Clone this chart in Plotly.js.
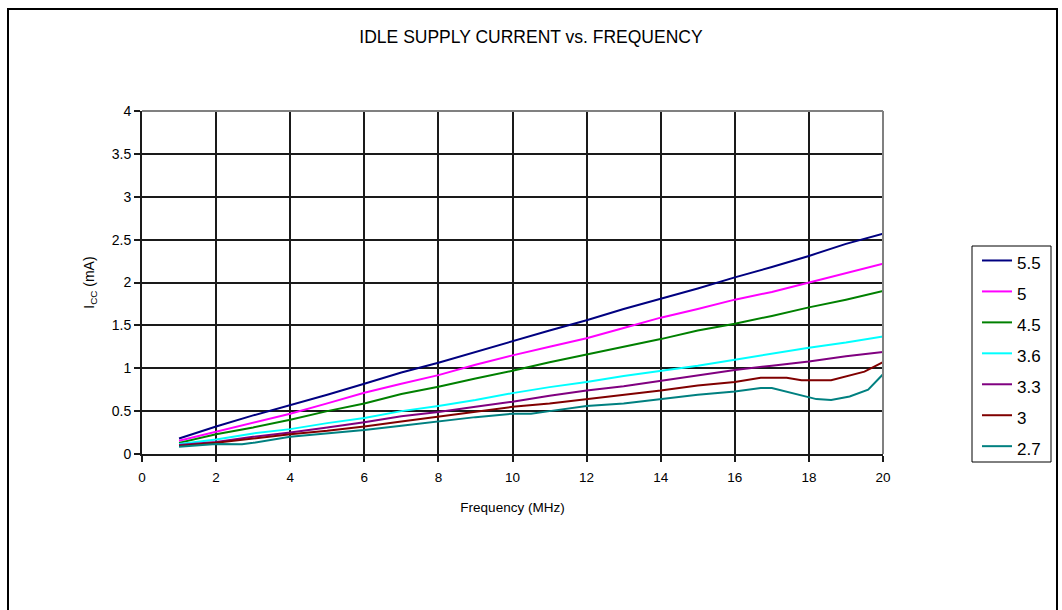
<!DOCTYPE html>
<html>
<head>
<meta charset="utf-8">
<script src="https://cdn.plot.ly/plotly-3.0.1.min.js"></script>
<style>
html,body{margin:0;padding:0;background:#fff;}
#wrap{position:relative;width:1062px;height:610px;overflow:hidden;}
#chart{width:1062px;height:610px;}
#frame{position:absolute;left:7px;top:8px;width:1047px;height:620px;border:2px solid #000;pointer-events:none;}
</style>
</head>
<body>
<div id="wrap"><div id="chart"></div><div id="frame"></div></div>
<script>
// Frequency (MHz)
const freq = [1,2,3,4,5,6,7,8,9,10,11,12,13,14,15,16,17,18,19,20];
const freqLow3 = [1,2,3,4,5,6,7,8,9,10,11,12,13,14,15,16,16.7,17.4,17.8,18.6,19.5,20];
const freqLow27 = [1,2,2.7,3,4,5,6,7,8,9,10,10.5,11,12,13,14,15,16,16.7,17,17.9,18.2,18.6,19.1,19.6,20];

// Icc (mA) per supply voltage
const v55 = [0.18,0.32,0.45,0.57,0.69,0.82,0.95,1.065,1.19,1.32,1.44,1.56,1.69,1.81,1.93,2.06,2.18,2.31,2.45,2.57];
const v50 = [0.155,0.26,0.37,0.47,0.59,0.715,0.82,0.92,1.04,1.15,1.25,1.35,1.47,1.59,1.69,1.80,1.89,2.0,2.11,2.22];
const v45 = [0.13,0.23,0.31,0.40,0.50,0.59,0.70,0.785,0.88,0.97,1.07,1.16,1.25,1.34,1.44,1.52,1.61,1.71,1.80,1.90];
const v36 = [0.117,0.17,0.24,0.29,0.36,0.42,0.50,0.56,0.63,0.71,0.78,0.84,0.91,0.97,1.03,1.10,1.17,1.24,1.30,1.37];
const v33 = [0.105,0.14,0.20,0.25,0.31,0.37,0.44,0.49,0.55,0.61,0.68,0.74,0.79,0.855,0.92,0.98,1.03,1.08,1.14,1.19];
const v30 = [0.093,0.13,0.18,0.23,0.27,0.32,0.38,0.435,0.49,0.55,0.59,0.64,0.69,0.74,0.80,0.84,0.89,0.89,0.86,0.86,0.96,1.07];
const v27 = [0.085,0.117,0.115,0.13,0.20,0.24,0.28,0.33,0.38,0.43,0.47,0.47,0.50,0.56,0.59,0.64,0.69,0.73,0.77,0.77,0.67,0.64,0.63,0.67,0.75,0.93];

const seriesNames = ["5.5","5","4.5","3.6","3.3","3","2.7"];
const seriesX = [freq,freq,freq,freq,freq,freqLow3,freqLow27];
const seriesY = [v55,v50,v45,v36,v33,v30,v27];
const seriesColors = ["#000080","#ff00ff","#008000","#00ffff","#800080","#800000","#008080"];

const xTicks = [0,2,4,6,8,10,12,14,16,18,20];
const yTicks = [0,0.5,1,1.5,2,2.5,3,3.5,4];

const FONT = "Liberation Sans, Arial, sans-serif";

const traces = seriesNames.map((n,i)=>({
  type:"scatter", mode:"lines", name:'<span style="font-size:17px">'+n+'</span>',
  x:seriesX[i], y:seriesY[i],
  line:{color:seriesColors[i], width:2}
}));

const PW = 741, PH = 343;
const layout = {
  width:1062, height:610,
  paper_bgcolor:"#ffffff", plot_bgcolor:"#ffffff",
  margin:{l:142, r:179, t:111, b:156},
  font:{family:FONT, color:"#000", size:13},
  title:{text:"IDLE SUPPLY CURRENT vs. FREQUENCY", font:{family:FONT, size:17.5, color:"#000"},
         xref:"container", x:0.5, xanchor:"center", yref:"container", y:1-37/610, yanchor:"middle"},
  xaxis:{range:[0,20], tickvals:xTicks, ticktext:xTicks.map(String),
    showgrid:true, gridcolor:"#1a1a1a", gridwidth:2,
    showline:true, linecolor:"#1a1a1a", linewidth:2, mirror:false,
    ticks:"outside", ticklen:6, tickwidth:2, tickcolor:"#1a1a1a",
    ticklabelstandoff:4,
    zeroline:false, tickfont:{size:13.5, family:FONT},
    title:{text:"Frequency (MHz)", font:{size:13.5, family:FONT}, standoff:18}},
  yaxis:{range:[0,4], tickvals:yTicks, ticktext:yTicks.map(String),
    showgrid:true, gridcolor:"#1a1a1a", gridwidth:2,
    showline:true, linecolor:"#1a1a1a", linewidth:2,
    ticks:"outside", ticklen:6, tickwidth:2, tickcolor:"#1a1a1a",
    zeroline:false, tickfont:{size:14, family:FONT},
    title:{text:"I<sub>CC</sub> (mA)", font:{size:14, family:FONT}, standoff:14}},
  shapes:[
    {type:"line", xref:"paper", yref:"paper", x0:0, x1:1, y0:1, y1:1, line:{color:"#808080", width:2}},
    {type:"line", xref:"paper", yref:"paper", x0:1, x1:1, y0:0, y1:1, line:{color:"#808080", width:2}},
    {type:"rect", xref:"paper", yref:"paper",
     x0:(972-142)/PW, x1:(1051-142)/PW, y0:(454-462)/PH, y1:(454-246)/PH,
     line:{color:"#000", width:1}, fillcolor:"rgba(0,0,0,0)"}
  ],
  showlegend:true,
  legend:{x:(977-142)/PW, xanchor:"left", y:(454-240)/PH, yanchor:"top",
    bgcolor:"rgba(0,0,0,0)", borderwidth:0,
    font:{size:21.5, family:FONT, color:"#000"}, itemwidth:30, traceorder:"normal"}
};

Plotly.newPlot("chart", traces, layout, {staticPlot:true, displayModeBar:false});
</script>
</body>
</html>
